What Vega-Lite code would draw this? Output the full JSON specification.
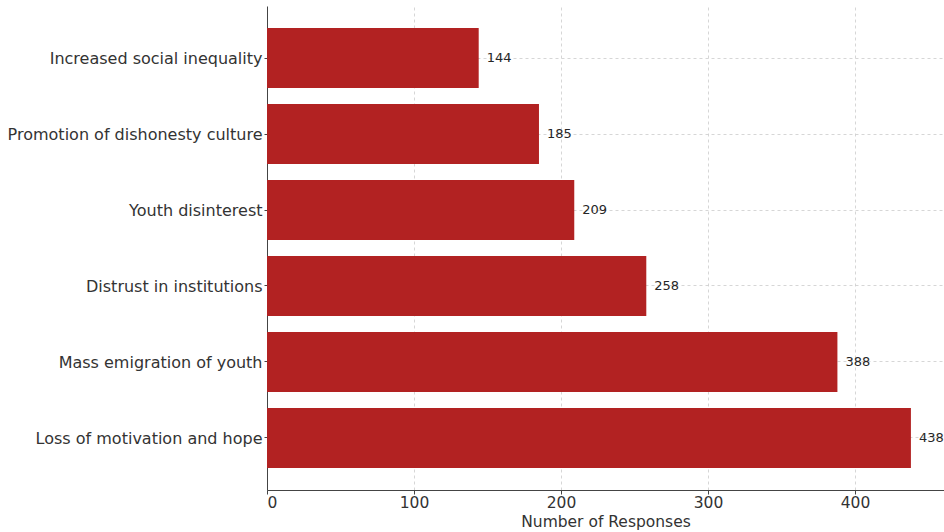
{
  "$schema": "https://vega.github.io/schema/vega-lite/v6.json",
  "width": 677,
  "height": 484,
  "autosize": {"type": "none"},
  "padding": {"left": 267, "top": 6, "right": 0, "bottom": 42},
  "config": {
    "view": {"stroke": null},
    "font": "DejaVu Sans"
  },
  "data": {
    "values": [
      {"impact": "Increased social inequality", "count": 144},
      {"impact": "Promotion of dishonesty culture", "count": 185},
      {"impact": "Youth disinterest", "count": 209},
      {"impact": "Distrust in institutions", "count": 258},
      {"impact": "Mass emigration of youth", "count": 388},
      {"impact": "Loss of motivation and hope", "count": 438}
    ]
  },
  "encoding": {
    "y": {
      "field": "impact",
      "type": "nominal",
      "sort": null,
      "scale": {"paddingInner": 0.21, "paddingOuter": 0.29},
      "axis": {
        "title": null,
        "labelFont": "DejaVu Sans",
        "labelFontSize": 16,
        "labelLimit": 400,
        "labelColor": "#333333",
        "labelPadding": 2,
        "labelOffset": 1,
        "domainColor": "#444444",
        "tickColor": "#444444",
        "tickSize": 3,
        "grid": true,
        "gridDash": [3, 3],
        "gridColor": "#cccccc",
        "gridWidth": 0.8
      }
    },
    "x": {
      "field": "count",
      "type": "quantitative",
      "scale": {"domain": [0, 460.5], "nice": false},
      "axis": {
        "title": "Number of Responses",
        "titleFont": "DejaVu Sans",
        "titleFontSize": 15.5,
        "titleFontWeight": "normal",
        "titleColor": "#333333",
        "titlePadding": 4,
        "values": [0, 100, 200, 300, 400],
        "labelFont": "DejaVu Sans",
        "labelFontSize": 15.5,
        "labelColor": "#333333",
        "labelPadding": 1,
        "domainColor": "#444444",
        "tickColor": "#444444",
        "tickSize": 4,
        "grid": true,
        "gridDash": [3, 3],
        "gridColor": "#cccccc",
        "gridWidth": 0.8
      }
    }
  },
  "layer": [
    {"mark": {"type": "bar", "color": "#b22222"}},
    {
      "mark": {"type": "text", "align": "left", "dx": 8, "fontSize": 13, "color": "#262626", "font": "DejaVu Sans"},
      "encoding": {"text": {"field": "count", "type": "quantitative"}}
    }
  ]
}
